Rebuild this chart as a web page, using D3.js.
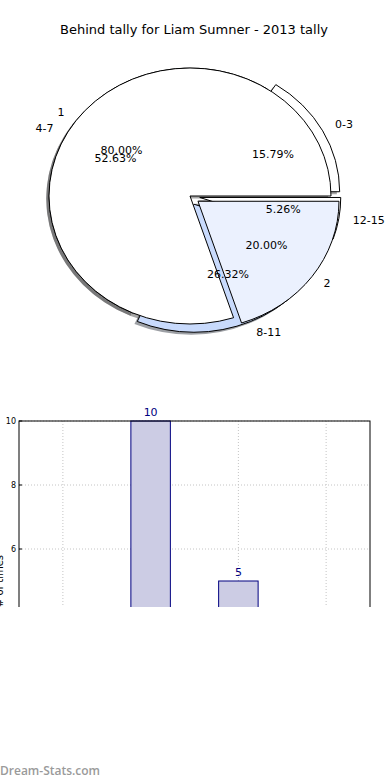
<!DOCTYPE html>
<html lang="en">
<head>
    <meta charset="UTF-8">
    <title>Behind tally</title>
    <script src="https://d3js.org/d3.v7.min.js"></script>
    <style>
        body { margin: 0; background: white; }
        text { font-family: "DejaVu Sans", sans-serif; }
    </style>
</head>
<body>
    <script>

    // data for the outer (range) pie
    const rangeLabels = ["0-3", "4-7", "8-11", "12-15"];
    const rangeValues = [3, 10, 5, 1];
    const rangeExplode = [0.07, 0, 0.07, 0.07];
    const rangeColors = ["#ffffff", "#ebf1fe", "#c8dafc", "#ffffff"];

    // data for the second pie drawn on top
    const tallyLabels = ["1", "2"];
    const tallyValues = [4, 1];
    const tallyExplode = [0, 0.07];
    const tallyColors = ["#ffffff", "#ebf1fe"];

    // bar chart data (same ranges)
    const barCategories = ["0-3", "4-7", "8-11", "12-15"];
    const barValues = [3, 10, 5, 1];
    const yTicks = [0, 2, 4, 6, 8, 10];

    var W = 390, H = 780;

    var canvas = d3.select("body")
        .append("svg")
        .attr("width", W)
        .attr("height", H);

    canvas.append("text")
        .attr("x", 194)
        .attr("y", 30)
        .attr("text-anchor", "middle")
        .attr("dominant-baseline", "middle")
        .style("font-size", "13px")
        .text("Behind tally for Liam Sumner - 2013 tally");

    // pie geometry (matplotlib style ellipse)
    var cx = 190, cy = 196, rx = 141, ry = 128;

    // start at 3 o'clock and go counter clockwise like matplotlib
    var pie = d3.pie()
        .sort(null)
        .startAngle(Math.PI / 2)
        .endAngle(Math.PI / 2 - 2 * Math.PI);

    var arc = d3.arc().innerRadius(0).outerRadius(1);

    function shade(c) {
        var col = d3.rgb(c);
        return d3.rgb(col.r * 0.3, col.g * 0.3, col.b * 0.3).toString();
    }

    function buildSlices(values, labels, explode, colors) {
        return pie(values).map(function (d, i) {
            var mid = (d.startAngle + d.endAngle) / 2;
            return {
                arc: d,
                label: labels[i],
                pct: (100 * d.value / d3.sum(values)).toFixed(2) + "%",
                color: colors[i],
                mid: mid,
                ox: explode[i] * Math.sin(mid),
                oy: -explode[i] * Math.cos(mid)
            };
        });
    }

    var rangeSlices = buildSlices(rangeValues, rangeLabels, rangeExplode, rangeColors);
    var tallySlices = buildSlices(tallyValues, tallyLabels, tallyExplode, tallyColors);
    var allSlices = rangeSlices.concat(tallySlices);

    var pieGroup = canvas.append("g")
        .attr("transform", "translate(" + cx + "," + cy + ") scale(" + rx + "," + ry + ")");

    // shadows go under every wedge
    pieGroup.selectAll(".shadow")
        .data(allSlices)
        .enter()
        .append("path")
        .attr("class", "shadow")
        .attr("d", d => arc(d.arc))
        .attr("transform", d => "translate(" + (d.ox - 0.02) + "," + (d.oy + 0.02) + ")")
        .attr("fill", d => shade(d.color))
        .attr("fill-opacity", 0.5);

    function drawWedges(slices, cls) {
        pieGroup.selectAll("." + cls)
            .data(slices)
            .enter()
            .append("path")
            .attr("class", cls)
            .attr("d", d => arc(d.arc))
            .attr("transform", d => "translate(" + d.ox + "," + d.oy + ")")
            .attr("fill", d => d.color)
            .attr("stroke", "black")
            .attr("stroke-width", 1)
            .attr("stroke-linejoin", "miter")
            .attr("vector-effect", "non-scaling-stroke");
    }
    drawWedges(rangeSlices, "range-wedge");
    drawWedges(tallySlices, "tally-wedge");

    // labels at 1.1 radius, percents at 0.6 radius
    function px(d, r) { return cx + rx * (r * Math.sin(d.mid) + d.ox); }
    function py(d, r) { return cy + ry * (-r * Math.cos(d.mid) + d.oy); }

    var textGroup = canvas.append("g");
    textGroup.selectAll(".pie-label")
        .data(allSlices)
        .enter()
        .append("text")
        .attr("class", "pie-label")
        .attr("x", d => px(d, 1.1))
        .attr("y", d => py(d, 1.1))
        .attr("text-anchor", d => Math.sin(d.mid) > 0 ? "start" : "end")
        .attr("dominant-baseline", "middle")
        .style("font-size", "11px")
        .text(d => d.label);

    textGroup.selectAll(".pie-pct")
        .data(allSlices)
        .enter()
        .append("text")
        .attr("class", "pie-pct")
        .attr("x", d => px(d, 0.6))
        .attr("y", d => py(d, 0.6))
        .attr("text-anchor", "middle")
        .attr("dominant-baseline", "middle")
        .style("font-size", "11px")
        .text(d => d.pct);

    // bar chart, the picture is cut off at y=607
    canvas.append("clipPath")
        .attr("id", "barclip")
        .append("rect")
        .attr("x", 0)
        .attr("y", 395)
        .attr("width", W)
        .attr("height", 212);

    var bars = canvas.append("g").attr("clip-path", "url(#barclip)");

    var plotLeft = 19, plotRight = 370, plotTop = 421, plotBottom = 741;

    var x = d3.scaleBand()
        .domain(barCategories)
        .range([plotLeft, plotRight]);

    var y = d3.scaleLinear()
        .domain([0, 10])
        .range([plotBottom, plotTop]);

    // dotted grid
    bars.selectAll(".vgrid")
        .data(barCategories)
        .enter()
        .append("line")
        .attr("x1", d => x(d) + x.bandwidth() / 2)
        .attr("x2", d => x(d) + x.bandwidth() / 2)
        .attr("y1", plotTop)
        .attr("y2", plotBottom)
        .attr("stroke", "#c4c4c4")
        .attr("stroke-dasharray", "1,2");

    bars.selectAll(".hgrid")
        .data(yTicks)
        .enter()
        .append("line")
        .attr("x1", plotLeft)
        .attr("x2", plotRight)
        .attr("y1", d => y(d))
        .attr("y2", d => y(d))
        .attr("stroke", "#c4c4c4")
        .attr("stroke-dasharray", "1,2");

    var barW = x.bandwidth() * 0.45;

    bars.selectAll(".bar")
        .data(barValues)
        .enter()
        .append("rect")
        .attr("class", "bar")
        .attr("x", (d, i) => x(barCategories[i]) + (x.bandwidth() - barW) / 2)
        .attr("y", d => y(d))
        .attr("width", barW)
        .attr("height", d => plotBottom - y(d))
        .attr("fill", "#cccce4")
        .attr("stroke", "#000080")
        .attr("stroke-width", 1);

    bars.selectAll(".bar-label")
        .data(barValues)
        .enter()
        .append("text")
        .attr("x", (d, i) => x(barCategories[i]) + x.bandwidth() / 2)
        .attr("y", d => y(d) - 5)
        .attr("text-anchor", "middle")
        .attr("fill", "#000080")
        .style("font-size", "11px")
        .text(d => d);

    // frame
    bars.append("rect")
        .attr("x", plotLeft)
        .attr("y", plotTop)
        .attr("width", plotRight - plotLeft)
        .attr("height", plotBottom - plotTop)
        .attr("fill", "none")
        .attr("stroke", "black")
        .attr("stroke-width", 1);

    // y ticks and labels
    bars.selectAll(".ytick")
        .data(yTicks)
        .enter()
        .append("line")
        .attr("x1", plotLeft)
        .attr("x2", plotLeft + 3)
        .attr("y1", d => y(d))
        .attr("y2", d => y(d))
        .attr("stroke", "black");

    bars.selectAll(".ylab")
        .data(yTicks)
        .enter()
        .append("text")
        .attr("x", plotLeft - 3)
        .attr("y", d => y(d))
        .attr("text-anchor", "end")
        .attr("dominant-baseline", "middle")
        .style("font-size", "8px")
        .text(d => d);

    // axis title, mostly off the left edge like the source image
    bars.append("text")
        .attr("transform", "translate(2.5," + ((plotTop + plotBottom) / 2) + ") rotate(-90)")
        .attr("text-anchor", "middle")
        .style("font-size", "10px")
        .text("# of times");

    // watermark
    canvas.append("text")
        .attr("x", 0)
        .attr("y", 775)
        .attr("fill", "#9a9a9a")
        .style("font-family", "Open Sans, sans-serif")
        .style("font-size", "12px")
        .style("font-weight", "600")
        .text("Dream-Stats.com");

    </script>
</body>
</html>
